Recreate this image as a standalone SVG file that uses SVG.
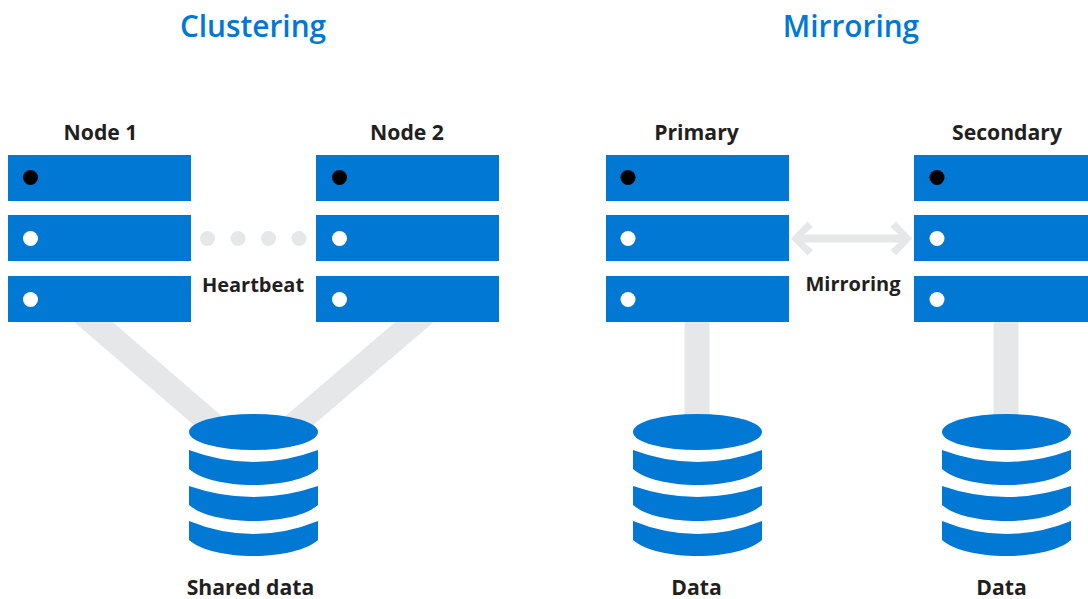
<svg xmlns="http://www.w3.org/2000/svg" xmlns:xlink="http://www.w3.org/1999/xlink" width="1088" height="599" viewBox="0 0 1088 599">
<style>
text{font-family:"Open Sans","Noto Sans","Liberation Sans",sans-serif;text-anchor:middle}
.t{font-size:29.800px;font-weight:600;fill:#0078d4}
.l{font-size:21.200px;font-weight:700;fill:#231f20}
.m{font-size:20px;font-weight:700;fill:#231f20}
.b{fill:#0078d4}
.c{fill:#e6e7e8}
.s{fill:none;stroke:#e6e7e8}
</style>
<defs>
<g id="rack">
<rect class="b" x="0" y="0" width="183" height="46"/>
<rect class="b" x="0" y="60" width="183" height="46"/>
<rect class="b" x="0" y="121" width="183" height="46"/>
</g>
<g id="leds">
<circle cx="0" cy="22.500" r="7.500" fill="#000"/>
<circle cx="0" cy="83.500" r="7.500" fill="#fff"/>
<circle cx="0" cy="144.500" r="7.500" fill="#fff"/>
</g>
<g id="cyl">
<ellipse class="b" cx="64.500" cy="18" rx="64.500" ry="18"/>
<path class="b" d="M0 36Q32 48 64.500 48T129 36V55C118 65 92 71 64.500 71S11 65 0 55Z"/>
<path class="b" d="M0 72Q32 83 64.500 83T129 72V91C118 101 92 107 64.500 107S11 101 0 91Z"/>
<path class="b" d="M0 107Q32 120 64.500 120T129 107V126C118 136 92 142 64.500 142S11 136 0 126Z"/>
</g>
</defs>
<g id="connectors">
<path class="s" stroke-width="25" d="M83 313L221 432"/>
<path class="s" stroke-width="25" d="M425 313L286 432"/>
<path class="s" stroke-width="25" d="M697 320V420"/>
<path class="s" stroke-width="25" d="M1006 320V420"/>
<g id="heartbeat" class="c">
<circle cx="207.500" cy="238.500" r="7.500"/>
<circle cx="238" cy="238.500" r="7.500"/>
<circle cx="268.500" cy="238.500" r="7.500"/>
<circle cx="299" cy="238.500" r="7.500"/>
</g>
<path class="c" d="M791 238.500L807.500 221.500L813 227L804 234.500H899L890.500 227L896 221.500L912 238.500L896 255.500L890.500 250L899 242.500H804L813 250L807.500 255.500Z"/>
</g>
<text class="t" x="253" y="37">Clustering</text>
<text class="t" x="851" y="37">Mirroring</text>
<g id="node1"><use xlink:href="#rack" x="8" y="155"/><use xlink:href="#leds" x="30.500" y="155"/><text class="l" x="100.500" y="140">Node 1</text></g>
<g id="node2"><use xlink:href="#rack" x="316" y="155"/><use xlink:href="#leds" x="339.500" y="155"/><text class="l" x="407" y="140">Node 2</text></g>
<g id="primary"><use xlink:href="#rack" x="606" y="155"/><use xlink:href="#leds" x="628" y="155"/><text class="l" x="696.500" y="140">Primary</text></g>
<g id="secondary"><use xlink:href="#rack" x="914" y="155"/><use xlink:href="#leds" x="937" y="155"/><text class="l" x="1007" y="140">Secondary</text></g>
<text class="m" x="253" y="292">Heartbeat</text>
<text class="m" x="853" y="291">Mirroring</text>
<g id="shared-data"><use xlink:href="#cyl" x="189" y="414"/><text class="l" x="250.500" y="595">Shared data</text></g>
<g id="data1"><use xlink:href="#cyl" x="633" y="414"/><text class="l" x="696.500" y="595">Data</text></g>
<g id="data2"><use xlink:href="#cyl" x="942" y="414"/><text class="l" x="1001.500" y="595">Data</text></g>
</svg>
